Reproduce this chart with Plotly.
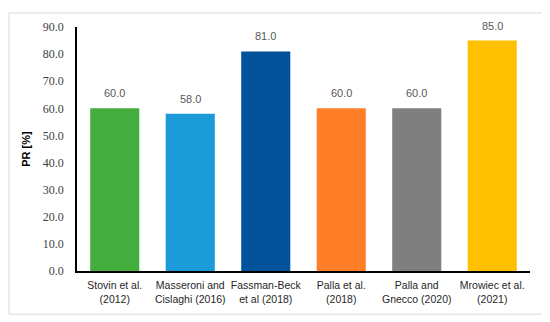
import plotly.graph_objects as go

categories = ["Stovin et al.<br>(2012)", "Masseroni and<br>Cislaghi (2016)", "Fassman-Beck<br>et al (2018)",
              "Palla et al.<br>(2018)", "Palla and<br>Gnecco (2020)", "Mrowiec et al.<br>(2021)"]
values = [60.0, 58.0, 81.0, 60.0, 60.0, 85.0]
colors = ["#43AE3E", "#1B9BD8", "#03539C", "#FE7F27", "#7F7F7F", "#FFC000"]

fig = go.Figure(go.Bar(x=categories, y=values, marker=dict(color=colors, line=dict(width=0)),
                       width=0.65, showlegend=False))

for c, v in zip(categories, values):
    fig.add_annotation(x=c, y=v, text=f"{v:.1f}", showarrow=False, yshift=15,
                       font=dict(family="Liberation Sans", size=11, color="#595959"))

fig.add_shape(type="rect", xref="paper", yref="paper", x0=-0.150, x1=1.031, y0=-0.177, y1=1.057,
              line=dict(color="#D9D9D9", width=1), fillcolor="rgba(0,0,0,0)", layer="below")

fig.update_layout(
    width=542, height=314, margin=dict(l=69, r=20, t=15, b=51),
    plot_bgcolor="white", paper_bgcolor="white", bargap=0.35,
    xaxis=dict(showline=True, linecolor="black", linewidth=1.5, ticks="", showgrid=False, tickangle=0,
               ticklabelstandoff=4,
               tickfont=dict(family="Liberation Sans", size=10.5, color="#262626")),
    yaxis=dict(range=[0, 90], dtick=10, tickformat=".1f", showline=True, linecolor="black", linewidth=1.5,
               showgrid=False, ticks="", zeroline=False, ticklabelstandoff=9,
               tickfont=dict(family="Liberation Serif, serif", size=12, color="#404040"),
               title=dict(text="<b>PR [%]</b>", font=dict(family="Liberation Sans", size=11, color="black"), standoff=10)),
)
fig.write_html("out.html")
